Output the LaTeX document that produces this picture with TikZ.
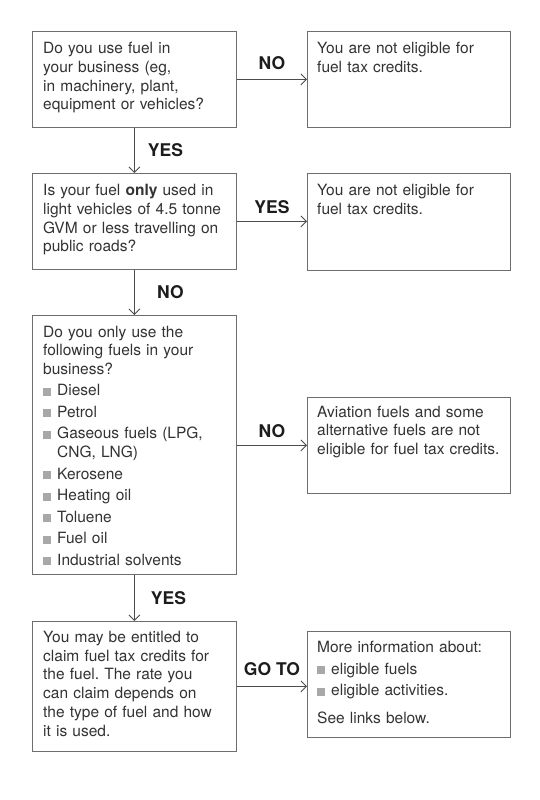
\documentclass[tikz,border=0pt]{standalone}
\usepackage{fontspec}
\setmainfont{TeX Gyre Heros}
\usetikzlibrary{arrows.meta}
\frenchspacing
\definecolor{boxgray}{HTML}{6E6E6E}
\definecolor{linegray}{HTML}{4C4C4C}
\definecolor{txtgray}{HTML}{333333}
\definecolor{lblblack}{HTML}{1C1C1C}
\definecolor{bulletgray}{HTML}{A8A8A8}
\newcommand\sqbullet{\textcolor{bulletgray}{\rule{8bp}{8bp}}}
\newcommand\fitem[1]{\par\vspace{2.8bp}\hangindent=14bp\hangafter=1\noindent\makebox[14bp][l]{\sqbullet}#1}
\begin{document}
\begin{tikzpicture}[x=1bp,y=-1bp,
  box/.style={draw=boxgray, line width=0.9bp, inner sep=0pt, anchor=north west, minimum width=#1},
  box/.default=204bp,
  txt/.style={anchor=base west, inner sep=0pt, text width=200bp, align=left, text=txtgray,
    font=\fontsize{15.5bp}{18.7bp}\selectfont\frenchspacing},
  lbl/.style={inner sep=0pt, text=lblblack, font=\fontsize{17.5bp}{20bp}\selectfont\bfseries},
  conn/.style={draw=linegray, line width=0.9bp, -{Straight Barb[length=5.5bp, width=11bp, line width=0.9bp]}}]
\fill[white] (0,0) rectangle (540,800);
\useasboundingbox (0,0) rectangle (540,800);
% boxes
\node[box, minimum height=96bp] (q1) at (32,31) {};
\node[box=203bp, minimum height=96bp] (r1) at (307,31) {};
\node[box, minimum height=96bp] (q2) at (32,173) {};
\node[box=203bp, minimum height=97bp] (r2) at (307,173) {};
\node[box, minimum height=259bp] (q3) at (32,315) {};
\node[box=203bp, minimum height=96bp] (r3) at (307,397) {};
\node[box, minimum height=130bp] (q4) at (32,621) {};
\node[box=203bp, minimum height=106bp] (r4) at (307,631) {};
% texts
\node[txt] (q1t) at ([shift={(11,22.8)}]q1.north west)
  {Do you use fuel in\newline your business (eg,\newline in machinery, plant,\newline equipment or vehicles?};
\node[txt] (r1t) at ([shift={(10,22.8)}]r1.north west)
  {You are not eligible for\newline fuel tax credits.};
\node[txt] (q2t) at ([shift={(11,22.8)}]q2.north west)
  {Is your fuel \textbf{only} used in\newline light vehicles of 4.5 tonne\newline GVM or less travelling on\newline public roads?};
\node[txt] (r2t) at ([shift={(10,22.8)}]r2.north west)
  {You are not eligible for\newline fuel tax credits.};
\node[txt] (q3t) at ([shift={(11,22)}]q3.north west)
  {Do you only use the\newline following fuels in your\newline business?%
   \fitem{Diesel}\fitem{Petrol}\fitem{Gaseous fuels (LPG,\newline CNG, LNG)}%
   \fitem{Kerosene}\fitem{Heating oil}\fitem{Toluene}\fitem{Fuel oil}\fitem{Industrial solvents}};
\node[txt] (r3t) at ([shift={(10,20)}]r3.north west)
  {Aviation fuels and some\newline alternative fuels are not\newline eligible for fuel tax credits.};
\node[txt] (q4t) at ([shift={(11,21.5)}]q4.north west)
  {You may be entitled to\newline claim fuel tax credits for\newline the fuel. The rate you\newline can claim depends on\newline the type of fuel and how\newline it is used.};
\node[txt] (r4t) at ([shift={(10,21.7)}]r4.north west)
  {More information about:\fitem{eligible fuels}\fitem{eligible activities.}\par\vspace{9.4bp}\noindent See links below.};
% connectors
\draw[conn] (q1.east) -- node[lbl, yshift=16.3bp] (l1) {NO} (r1.west |- q1.east);
\draw[conn] (q1.south) -- node[lbl, xshift=31bp] (l2) {YES} (q2.north);
\draw[conn] (q2.east) -- node[lbl, yshift=14.5bp] (l3) {YES} (r2.west |- q2.east);
\draw[conn] (q2.south) -- node[lbl, xshift=36bp] (l4) {NO} (q3.north);
\draw[conn] (q3.east |- r3.west) -- node[lbl, yshift=14.2bp] (l5) {NO} (r3.west);
\draw[conn] (q3.south) -- node[lbl, xshift=34bp] (l6) {YES} (q4.north);
\draw[conn] (q4.east) -- node[lbl, yshift=17.7bp] (l7) {GO TO} (r4.west |- q4.east);
\end{tikzpicture}
\end{document}
